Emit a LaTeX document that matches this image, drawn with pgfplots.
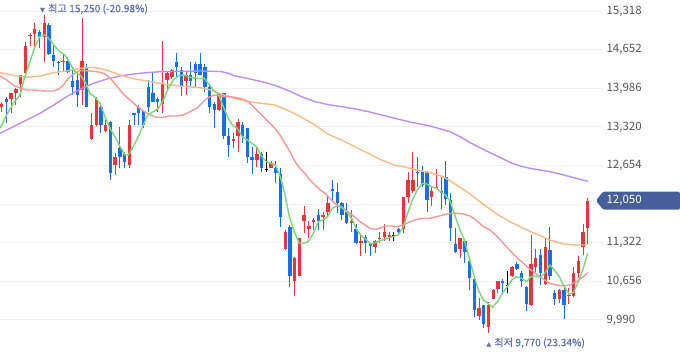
\documentclass[border=0pt]{standalone}
\usepackage{pgfplots}
\pgfplotsset{compat=1.18}
\usepackage{pgfplotstable}
\usepackage{fontspec}
\setmainfont{Noto Sans CJK KR}
\newfontfamily\annotfont{Noto Sans CJK KR}[FakeBold=0.6]
\newfontfamily\dejavu{DejaVu Sans}
\definecolor{cred}{RGB}{235,52,58}
\definecolor{cblue}{RGB}{20,112,235}
\definecolor{mafive}{RGB}{120,215,120}
\definecolor{matwenty}{RGB}{250,150,150}
\definecolor{masixty}{RGB}{255,185,130}
\definecolor{maonetwenty}{RGB}{192,140,250}
\definecolor{gridc}{RGB}{238,239,242}
\definecolor{tickc}{RGB}{85,85,85}
\definecolor{boxblue}{RGB}{70,95,155}
\definecolor{annot}{RGB}{95,115,175}

\pgfplotstableread{
i O H L C
0 13659 13757 13584 13717
2 13803 13912 13556 13901
3 13912 13987 13699 13970
4 14062 14223 13843 14211
5 14257 14792 14217 14717
6 14901 14947 14717 14913
7 14919 15108 14677 15005
9 14878 15250 14447 15108
13 14441 14591 14274 14464
17 13958 15195 13699 14453
19 13107 13556 13095 13354
20 13354 13843 13337 13809
22 13256 13441 13239 13348
24 12658 12865 12492 12796
27 12664 13441 12607 13354
34 13717 14809 13556 14062
35 14131 14292 13958 14246
36 14177 14315 14142 14303
39 14119 14274 13872 14217
46 13613 13912 13602 13889
49 13078 13211 12952 13113
50 13164 13464 12894 13412
54 12750 12952 12635 12854
57 12618 12733 12607 12704
60 11209 11543 11198 11514
62 10668 11083 10404 11054
63 10749 11410 10749 11410
64 11704 11957 11497 11801
65 11554 11704 11399 11612
66 11686 11744 11543 11715
68 11761 11859 11543 11801
69 11859 12147 11773 12014
74 11669 11888 11514 11704
76 11313 11456 11094 11359
79 11255 11370 11152 11359
80 11387 11503 11313 11410
81 11416 11646 11359 11514
82 11416 11503 11359 11456
85 11554 12118 11497 12106
86 12118 12549 12003 12405
87 12221 12894 12175 12405
91 12118 12290 11957 12216
92 12262 12589 12244 12290
97 11209 11399 11054 11399
101 10059 10364 9990 10191
103 9863 10306 9770 10249
104 10352 10519 10347 10507
105 10519 10663 10450 10663
108 10749 10922 10737 10910
112 10249 11456 10231 10950
113 10910 11209 10824 11065
115 10611 11382 10594 11244
118 10352 10519 10289 10507
120 10404 10536 10266 10421
121 10404 10910 10381 10795
122 10807 11094 10709 11008
123 11255 11646 11111 11514
124 11571 12089 11301 12050
}\upT

\pgfplotstableread{
i O H L C
1 13803 13843 13395 13757
8 14959 14993 14677 14867
10 15074 15108 14562 14574
11 14562 14735 14361 14459
12 14447 14459 14217 14418
14 14459 14533 14246 14274
15 14119 14361 13872 14016
16 14131 14274 13671 13872
18 14349 14407 13659 13671
21 13659 13728 13211 13354
23 13406 13429 12405 12520
25 12952 13326 12607 12808
26 12854 12894 12607 12722
28 13556 13567 13354 13521
29 13671 13699 13354 13567
30 13602 13613 13297 13354
31 14004 14131 13584 13671
32 13901 14257 13757 13757
33 13803 13843 13584 13745
37 14447 14591 14159 14361
38 14303 14361 13860 14016
40 14217 14447 14016 14119
41 14401 14447 14016 14246
42 14413 14602 14211 14217
43 14349 14407 13929 14016
44 14004 14044 13556 13671
45 13717 13757 13308 13613
47 13901 13912 13107 13164
48 13164 13308 12808 13009
51 13354 13412 13038 13164
52 13297 13308 12704 12808
53 12808 12980 12509 12750
55 12854 12894 12549 12607
58 12618 12739 12348 12520
59 12509 12607 11600 11761
61 11600 11629 10553 10749
67 11801 11899 11543 11704
70 12244 12405 12032 12221
71 12204 12359 11830 12014
72 12003 12032 11715 11801
73 11859 12003 11646 11669
75 11554 11646 11301 11313
77 11416 11456 11140 11313
78 11301 11313 11094 11267
84 11554 11571 11485 11503
88 12549 12796 12290 12520
89 12549 12647 12290 12319
90 12549 12566 11859 12060
93 12221 12451 11899 12187
94 12451 12739 11974 12072
95 12060 12187 11359 11571
96 11295 11583 11152 11169
98 11359 11370 10968 11169
99 11008 11014 10507 10709
100 10691 10737 10047 10162
102 10249 10249 9846 9921
106 10663 10691 10461 10622
109 10950 10996 10853 10864
110 10795 10841 10553 10663
111 10553 10576 10151 10260
114 11111 11209 10594 10807
116 11198 11600 10680 10749
117 10461 10507 10249 10352
119 10507 10576 10002 10249
}\downT

\pgfplotstableread{
i O H L C
56 12600 12894 12549 12590
83 11450 11503 11359 11440
107 10600 10841 10450 10590
}\dojiT

\begin{document}
\begin{tikzpicture}
\useasboundingbox (0,0) rectangle (680pt,358pt);
\begin{axis}[
  at={(0,0)}, anchor=south west,
  scale only axis, width=603pt, height=358pt,
  xmin=-0.36, xmax=127.23, ymin=9334, ymax=15511,
  clip mode=individual,
  axis line style={draw=none},
  xtick=\empty,
  ytick={9990,10656,11322,11988,12654,13320,13986,14652,15318},
  yticklabels={{9,990},{10,656},{11,322},{},{12,654},{13,320},{13,986},{14,652},{15,318}},
  yticklabel pos=right,
  major tick length=0pt,
  yticklabel style={font=\fontsize{11.5}{13}\selectfont, text=tickc, anchor=west},
  ymajorgrids,
  grid style={draw=gridc, line width=1pt},
]
% wicks
\addplot[draw=none, mark=none, forget plot, error bars/.cd, y dir=plus, y explicit, error mark=none,
  error bar style={draw=cred, line width=1pt, line cap=butt}]
  table[x=i, y=L, y error plus expr=\thisrow{H}-\thisrow{L}] {\upT};
\addplot[draw=none, mark=none, forget plot, error bars/.cd, y dir=plus, y explicit, error mark=none,
  error bar style={draw=cblue, line width=1pt, line cap=butt}]
  table[x=i, y=L, y error plus expr=\thisrow{H}-\thisrow{L}] {\downT};
\addplot[draw=none, mark=none, forget plot, error bars/.cd, y dir=plus, y explicit, error mark=none,
  error bar style={draw=black, line width=1pt, line cap=butt}]
  table[x=i, y=L, y error plus expr=\thisrow{H}-\thisrow{L}] {\dojiT};
% bodies
\addplot[draw=none, mark=none, forget plot, error bars/.cd, y dir=plus, y explicit, error mark=none,
  error bar style={draw=cred, line width=3.4pt, line cap=butt}]
  table[x=i, y=O, y error plus expr=\thisrow{C}-\thisrow{O}] {\upT};
\addplot[draw=none, mark=none, forget plot, error bars/.cd, y dir=plus, y explicit, error mark=none,
  error bar style={draw=cblue, line width=3.4pt, line cap=butt}]
  table[x=i, y=C, y error plus expr=\thisrow{O}-\thisrow{C}] {\downT};
\addplot[draw=none, mark=none, forget plot, error bars/.cd, y dir=plus, y explicit, error mark=none,
  error bar style={draw=black, line width=3.4pt, line cap=butt}]
  table[x=i, y=C, y error plus expr=\thisrow{O}-\thisrow{C}] {\dojiT};

% MA120
\addplot[maonetwenty, line width=1.4pt, line join=round, mark=none] coordinates {
(-0.36,13211)(2.46,13326)(5.28,13441)(8.10,13556)(10.92,13694)(13.75,13843)(16.57,13970)(19.39,14073)(22.21,14148)(25.03,14200)(27.85,14234)(30.67,14257)(33.49,14274)(36.32,14280)(39.14,14280)(41.96,14286)(45.13,14280)(46.54,14274)(47.95,14246)(49.36,14200)(52.18,14154)(55.01,14102)(57.83,14039)(60.65,13947)(63.47,13843)(66.29,13757)(69.11,13705)(71.93,13671)(74.75,13631)(77.58,13584)(80.40,13527)(83.22,13469)(86.39,13406)(90.62,13337)(94.86,13239)(96.97,13153)(99.09,13050)(101.21,12963)(103.32,12877)(105.43,12796)(107.55,12710)(109.67,12647)(111.78,12607)(113.90,12578)(116.01,12549)(118.13,12509)(120.25,12463)(122.36,12417)(123.99,12382)};
% MA60
\addplot[masixty, line width=1.4pt, line join=round, mark=none] coordinates {
(-0.36,14257)(2.46,14211)(5.28,14177)(8.10,14200)(10.92,14257)(13.75,14286)(16.57,14332)(19.39,14349)(22.21,14303)(25.03,14217)(27.85,14154)(30.67,14114)(33.49,14073)(36.32,14039)(39.14,14016)(41.96,13999)(43.72,13970)(46.54,13884)(49.36,13814)(52.18,13757)(55.01,13728)(57.83,13699)(60.65,13602)(63.47,13487)(66.29,13354)(69.11,13193)(71.93,13095)(74.75,12980)(77.58,12865)(80.40,12750)(83.22,12658)(84.98,12635)(87.80,12578)(90.62,12532)(93.44,12463)(96.27,12319)(99.09,12164)(101.91,11986)(104.73,11819)(107.55,11686)(110.37,11571)(113.19,11468)(116.01,11370)(118.84,11301)(121.66,11284)(123.99,11284)};
% MA20
\addplot[matwenty, line width=1.4pt, line join=round, mark=none] coordinates {
(-0.36,14200)(1.05,14131)(2.46,14044)(3.87,13987)(5.28,13958)(6.69,13958)(8.10,13947)(9.51,13941)(10.92,13941)(11.98,13970)(13.04,14044)(14.10,14159)(15.16,14234)(16.57,14292)(17.63,14292)(18.68,14286)(20.09,14274)(21.15,14257)(22.21,14217)(23.27,14131)(24.33,14027)(25.74,13889)(27.15,13786)(28.56,13682)(29.97,13596)(31.38,13527)(32.79,13487)(34.20,13487)(35.61,13510)(37.02,13510)(38.43,13527)(39.84,13584)(41.25,13642)(41.96,13699)(43.02,13786)(44.07,13843)(45.13,13872)(46.19,13855)(47.25,13843)(48.31,13843)(49.36,13832)(50.42,13814)(51.48,13786)(52.54,13728)(53.60,13642)(54.65,13556)(55.71,13469)(56.77,13383)(57.83,13297)(58.89,13182)(59.94,13038)(61.00,12894)(62.06,12722)(63.12,12607)(64.17,12520)(65.23,12405)(66.29,12319)(67.35,12233)(68.41,12175)(69.46,12089)(70.52,12003)(71.58,11945)(72.64,11888)(73.70,11830)(74.75,11761)(75.81,11686)(76.87,11629)(77.93,11571)(78.99,11554)(80.04,11571)(81.10,11612)(82.51,11612)(83.57,11600)(84.98,11629)(86.39,11686)(87.80,11727)(89.21,11744)(90.62,11744)(92.03,11773)(93.44,11801)(94.86,11830)(96.27,11830)(97.68,11819)(99.09,11784)(100.50,11704)(101.91,11600)(103.32,11543)(104.73,11439)(106.14,11313)(107.55,11186)(108.96,11071)(110.37,10968)(111.78,10864)(113.19,10784)(114.60,10691)(116.01,10622)(117.43,10594)(118.84,10576)(120.25,10594)(121.66,10651)(123.07,10737)(123.99,10807)};
% MA5
\addplot[mafive, line width=1.4pt, line join=round, mark=none] coordinates {
(-0.36,13297)(1.05,13527)(2.46,13728)(3.87,13872)(4.79,14159)(5.99,14447)(7.05,14706)(8.10,14890)(9.16,14907)(10.22,14821)(11.28,14706)(12.34,14620)(13.39,14562)(14.45,14418)(15.51,14274)(16.57,14217)(17.63,14102)(18.68,13901)(19.74,13832)(20.80,13728)(21.86,13498)(22.92,13297)(23.97,13153)(25.03,12980)(26.09,12837)(26.79,12837)(27.85,12980)(28.91,13153)(29.97,13354)(30.88,13527)(32.08,13584)(33.14,13642)(34.20,13786)(35.26,13987)(36.32,14131)(37.37,14200)(38.43,14217)(39.84,14177)(41.25,14159)(42.87,14159)(43.72,14073)(44.78,13958)(45.84,13889)(46.89,13671)(47.95,13469)(48.80,13354)(49.86,13297)(50.92,13153)(51.97,13096)(52.89,13038)(53.95,12980)(55.01,12808)(55.99,12722)(56.91,12693)(57.90,12664)(58.96,12463)(59.87,12175)(60.86,11773)(61.92,11514)(62.98,11313)(63.82,11313)(64.88,11341)(65.94,11485)(67.00,11686)(67.91,11715)(68.97,11773)(69.96,11917)(70.88,11957)(71.93,11945)(72.99,11859)(74.05,11744)(74.97,11571)(75.95,11456)(77.01,11382)(78.07,11301)(78.99,11324)(80.04,11359)(81.10,11382)(82.16,11416)(83.92,11456)(84.98,11600)(85.90,11830)(86.89,12060)(87.94,12233)(89.00,12348)(89.92,12336)(90.91,12290)(91.96,12262)(92.88,12204)(93.87,12147)(94.93,12032)(95.98,11773)(96.83,11571)(97.89,11370)(98.95,11054)(100.00,10737)(100.85,10507)(101.91,10335)(103.04,10266)(103.88,10208)(104.87,10306)(105.93,10450)(106.99,10565)(107.90,10680)(108.96,10737)(110.02,10709)(111.08,10651)(111.92,10737)(112.98,10749)(114.04,10726)(114.89,10795)(116.01,10939)(116.93,10853)(117.99,10737)(118.84,10594)(120.03,10439)(120.95,10461)(122.01,10651)(122.93,10853)(123.99,11140)};

\coordinate (pricept) at (axis cs:127.23,12050);
\coordinate (hipt) at (axis cs:8.1,15356);
\coordinate (lopt) at (axis cs:102.5,9593);
\end{axis}
% current price marker
\fill[boxblue, rounded corners=1.5pt] ([xshift=-7pt]pricept) -- ([yshift=9pt]pricept) -- ([xshift=77pt,yshift=9pt]pricept) -- ([xshift=77pt,yshift=-9pt]pricept) -- ([yshift=-9pt]pricept) -- cycle;
\node[anchor=west, text=white, font=\fontsize{11.5}{13}\selectfont] at (pricept) {12,050};
% high / low annotations
\node[anchor=west, inner sep=0pt, text=annot, font=\annotfont\fontsize{10.2}{12}\selectfont] at (hipt) {{\dejavu\fontsize{6.5}{6.5}\selectfont ▼}\hspace{3pt}최고 15,250 (-20.98\%)};
\node[anchor=west, inner sep=0pt, text=annot, font=\annotfont\fontsize{10.2}{12}\selectfont] at (lopt) {{\dejavu\fontsize{6.5}{6.5}\selectfont ▲}\hspace{3pt}최저 9,770 (23.34\%)};
\end{tikzpicture}
\end{document}
